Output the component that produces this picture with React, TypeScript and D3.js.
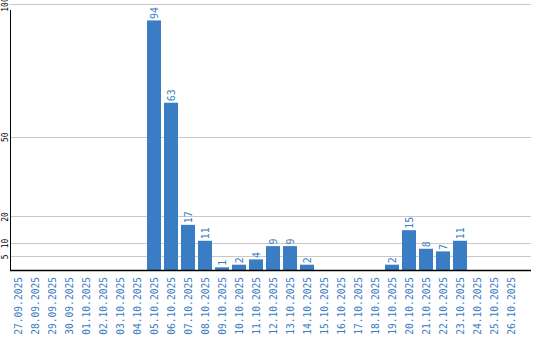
import React from "react";
import * as d3 from "d3";

const dates = [
  "27.09.2025","28.09.2025","29.09.2025","30.09.2025","01.10.2025","02.10.2025",
  "03.10.2025","04.10.2025","05.10.2025","06.10.2025","07.10.2025","08.10.2025",
  "09.10.2025","10.10.2025","11.10.2025","12.10.2025","13.10.2025","14.10.2025",
  "15.10.2025","16.10.2025","17.10.2025","18.10.2025","19.10.2025","20.10.2025",
  "21.10.2025","22.10.2025","23.10.2025","24.10.2025","25.10.2025","26.10.2025",
];
const values = [0,0,0,0,0,0,0,0,94,63,17,11,1,2,4,9,9,2,0,0,0,0,2,15,8,7,11,0,0,0];
const yTicks = [5, 10, 20, 50, 100];

const BLUE = "#3b7dc4";
const FONT = "'DejaVu Sans Mono', monospace";

export default function App() {
  const W = 540, H = 340;
  const x = d3.scaleBand<string>().domain(dates).range([9.5, 519.5])
    .paddingInner(3 / 17).paddingOuter(1.5 / 17);
  const y = d3.scaleLinear().domain([0, 100]).range([270, 4.5]);
  const gl = (v: number) => Math.floor(y(v)) + 0.5;
  return (
    <svg width={W} height={H} style={{ position: "absolute", left: 0, top: 0 }}>
      <rect width={W} height={H} fill="#fff" />
      {yTicks.map((t) => (
        <g key={t}>
          <line x1={10} x2={531} y1={gl(t)} y2={gl(t)} stroke="#c8c8c8" strokeWidth={1} />
          <text transform={`translate(7.5,${y(t)}) rotate(-90)`} textAnchor="middle"
            fontFamily={FONT} fontSize={8} fill="#000">{t}</text>
        </g>
      ))}
      {dates.map((d, i) => {
        const v = values[i];
        const bx = x(d)!;
        const cx = bx + x.bandwidth() / 2;
        return (
          <g key={d}>
            {v > 0 && (
              <>
                <rect x={bx} y={y(v)} width={x.bandwidth()} height={270 - y(v)} fill={BLUE} />
                <text transform={`translate(${cx + 3.5},${y(v) - 1.5}) rotate(-90)`}
                  fontFamily={FONT} fontSize={10} fill={BLUE}>{v}</text>
              </>
            )}
            <text transform={`translate(${cx + 3.5},277) rotate(-90)`} textAnchor="end"
              fontFamily={FONT} fontSize={9.6} fill={BLUE}>{d}</text>
          </g>
        );
      })}
      <line x1={10.5} x2={10.5} y1={10} y2={270} stroke="#000" strokeWidth={1} />
      <line x1={10} x2={531} y1={270.5} y2={270.5} stroke="#000" strokeWidth={1.5} />
    </svg>
  );
}
